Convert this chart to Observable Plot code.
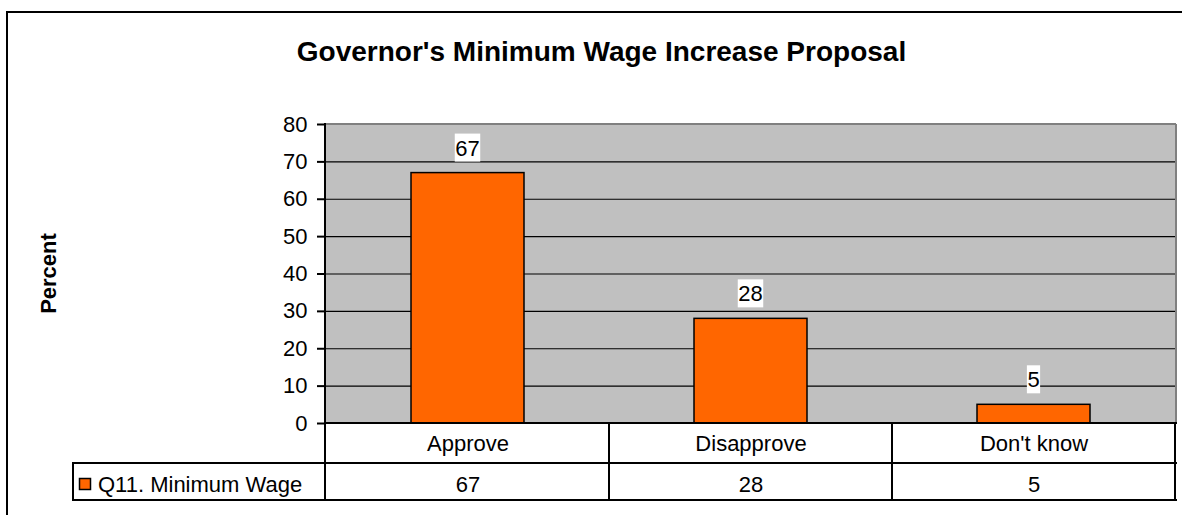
<!DOCTYPE html>
<html><head><meta charset="utf-8">
<script src="https://cdn.jsdelivr.net/npm/d3@7"></script>
<script src="https://cdn.jsdelivr.net/npm/@observablehq/plot@0.6"></script>
<style>html,body{margin:0;padding:0;background:#fff;} #chart svg{display:block}</style>
</head><body><div id="chart"></div>
<script>
// ---- data ----
const categories = ["Approve", "Disapprove", "Don't know"];
const values = [67, 28, 5];
const yTicks = [0, 10, 20, 30, 40, 50, 60, 70, 80];
const seriesName = "Q11. Minimum Wage";
const chartTitle = "Governor's Minimum Wage Increase Proposal";
const yLabel = "Percent";

const data = categories.map((c, i) => ({category: c, value: values[i]}));

const FONT = "'Liberation Sans', Arial, Helvetica, sans-serif";
const FS = 22;
const ORANGE = "#ff6600";
const NS = "http://www.w3.org/2000/svg";

function el(tag, attrs, text) {
  const e = document.createElementNS(NS, tag);
  for (const k in attrs) e.setAttribute(k, attrs[k]);
  if (text != null) e.textContent = text;
  return e;
}
const ctx = document.createElement("canvas").getContext("2d");
function textWidth(s, font) { ctx.font = font; return ctx.measureText(s).width; }

const ROW1 = 40, ROW2 = 37, LEGEND_LEFT = 73;

// decorations drawn with the plot's scales & dimensions
function decorations(index, scales, vals, dims) {
  const g = el("g", {"text-anchor": "start"});
  const x = scales.x, y = scales.y;
  const step = typeof x.step === "function" ? x.step() : x.step;
  const bw = typeof x.bandwidth === "function" ? x.bandwidth() : x.bandwidth;
  const left = dims.marginLeft, right = dims.width - dims.marginRight;
  const top = y(yTicks[yTicks.length - 1]), y0 = y(0);
  const r1 = y0 + ROW1, r2 = r1 + ROW2;
  const line = (x1, y1, x2, y2, stroke, w) => g.appendChild(el("line", {x1, y1, x2, y2, stroke, "stroke-width": w}));
  // plot area borders
  line(left, top, right, top, "#808080", 2);
  line(right, top, right, y0, "#808080", 2);
  // y axis line
  line(left, top - 1, left, y0, "black", 2);
  // table
  line(left, y0, right + 1, y0, "black", 2);
  line(LEGEND_LEFT - 1, r1, right + 1, r1, "black", 2);
  line(LEGEND_LEFT - 1, r2, right + 1, r2, "black", 2);
  line(LEGEND_LEFT, r1, LEGEND_LEFT, r2, "black", 2);
  line(left, y0, left, r2, "black", 2);
  categories.forEach(c => {
    const cr = x(c) + bw / 2 + step / 2;
    line(cr, y0, cr, r2, "black", 2);
  });
  // legend key
  g.appendChild(el("rect", {x: LEGEND_LEFT + 6.5, y: r1 + 15.5, width: 11, height: 11, fill: ORANGE, stroke: "black", "stroke-width": 1.5}));
  g.appendChild(el("text", {x: LEGEND_LEFT + 25, y: r1 + 29, "text-anchor": "start", "font-size": FS, fill: "black"}, seriesName));
  // data labels with white boxes
  data.forEach(d => {
    const cx = x(d.category) + bw / 2;
    const w = textWidth(String(d.value), `${FS}px ${FONT}`) + 1;
    const by = y(d.value) - 11;
    g.appendChild(el("rect", {x: cx - w / 2, y: by - 28, width: w, height: 28, fill: "white"}));
    g.appendChild(el("text", {x: cx, y: by - 6, "text-anchor": "middle", "font-size": FS, fill: "black"}, String(d.value)));
  });
  // title
  g.appendChild(el("text", {x: 601.5, y: 61, "text-anchor": "middle", "font-size": 28, "font-weight": "bold", fill: "black"}, chartTitle));
  // y label
  g.appendChild(el("text", {transform: `translate(56,${(top + y0) / 2}) rotate(-90)`, "text-anchor": "middle", "font-size": FS, "font-weight": "bold", fill: "black"}, yLabel));
  // outer border (left & top)
  line(7, 12, 7, dims.height, "black", 2);
  line(6, 12, dims.width, 12, "black", 2);
  return g;
}

const chart = Plot.plot({
  width: 1182,
  height: 515,
  marginLeft: 325,
  marginRight: 6,
  marginTop: 124,
  marginBottom: 92,
  style: {fontFamily: FONT, fontSize: FS + "px", color: "black", background: "white"},
  x: {domain: categories, paddingInner: 0.6, paddingOuter: 0.3, axis: null},
  y: {domain: [0, 80], axis: null},
  marks: [
    Plot.frame({fill: "#c0c0c0", stroke: null}),
    Plot.ruleY(yTicks.filter(t => t > 0 && t < 80), {stroke: "black", strokeWidth: 1.2}),
    Plot.barY(data, {x: "category", y: "value", fill: ORANGE, stroke: "black", strokeWidth: 1.5}),
    Plot.axisY({ticks: yTicks, tickSize: 8, tickPadding: 10, label: null, fontSize: FS, strokeWidth: 2, stroke: "black", fill: "black"}),
    Plot.text(data, {x: "category", text: "category", frameAnchor: "bottom", lineAnchor: "middle", dy: 20, fontSize: FS, fill: "black"}),
    Plot.text(data, {x: "category", text: d => String(d.value), frameAnchor: "bottom", lineAnchor: "middle", dy: 61, fontSize: FS, fill: "black"}),
    decorations
  ]
});
document.getElementById("chart").appendChild(chart);
</script>
</body></html>
